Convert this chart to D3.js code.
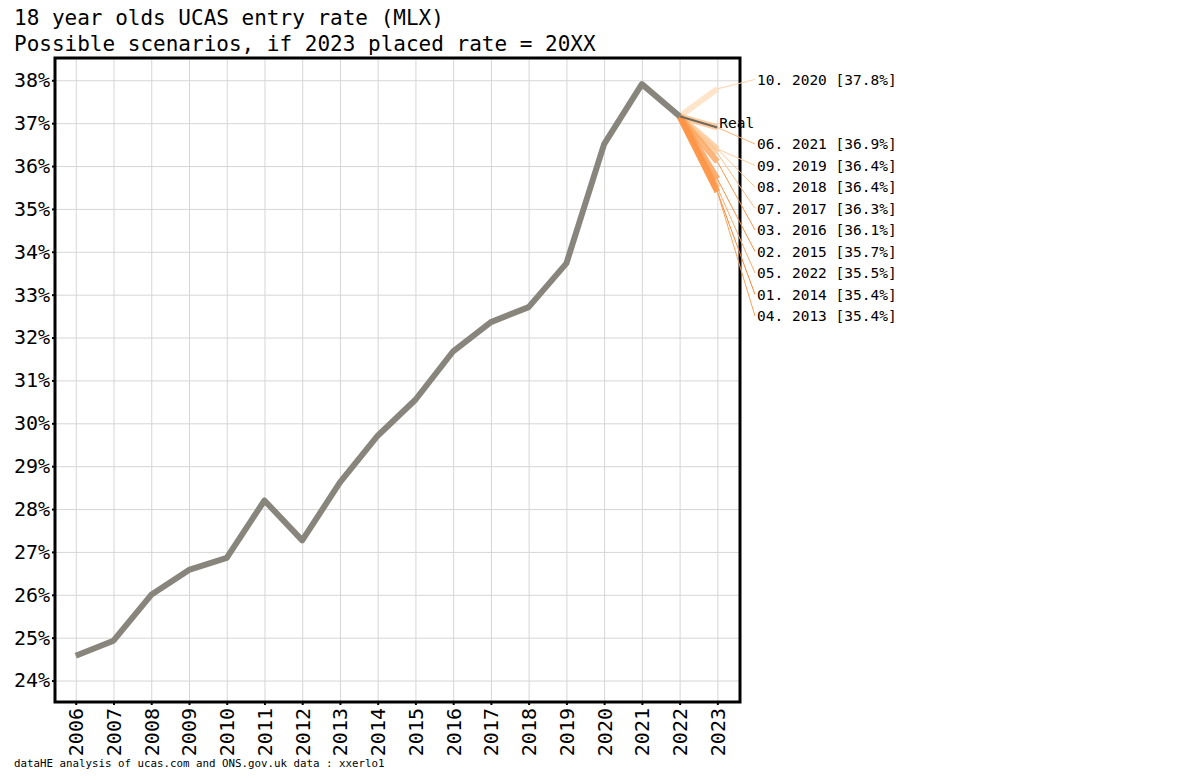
<!DOCTYPE html>
<html>
<head>
<meta charset="utf-8">
<script src="https://cdn.jsdelivr.net/npm/d3@7"></script>
<style>
  body { margin: 0; background: #fff; }
  text { font-family: "DejaVu Sans Mono", monospace; }
  .grid line { stroke: #d6d6d6; stroke-width: 1; }
  .grid path { display: none; }
  .axis path { display: none; }
  .axis line { stroke: #000; stroke-width: 2; }
  .axis text { font-size: 20px; fill: #000; }
</style>
</head>
<body>
<div id="chart"></div>
<script>
// observed entry rate, per cycle
var years = [2006, 2007, 2008, 2009, 2010, 2011, 2012, 2013, 2014, 2015, 2016, 2017, 2018, 2019, 2020, 2021, 2022];
var rate = [24.58, 24.93, 26.0, 26.58, 26.86, 28.2, 27.27, 28.62, 29.71, 30.55, 31.68, 32.36, 32.71, 33.73, 36.51, 37.91, 37.16];
var xYears = d3.range(2006, 2024);
var yTicks = [24, 25, 26, 27, 28, 29, 30, 31, 32, 33, 34, 35, 36, 37, 38];

// 2023 scenarios: placed rate borrowed from year XX
var scenarioRank = ["10", "06", "09", "08", "07", "03", "02", "05", "01", "04"];
var scenarioYear = [2020, 2021, 2019, 2018, 2017, 2016, 2015, 2022, 2014, 2013];
var scenarioValue = [37.8, 36.9, 36.4, 36.4, 36.3, 36.1, 35.7, 35.5, 35.4, 35.4];
var real2023 = 36.9;

var width = 1200, height = 782;
var margin = { top: 58, right: 460, bottom: 80, left: 55 };
var innerWidth = width - margin.left - margin.right,
  innerHeight = height - margin.top - margin.bottom;

var svg = d3.select("#chart").append("svg")
  .attr("width", width).attr("height", height);

svg.append("text").attr("x", 14).attr("y", 25)
  .style("font-size", "21px").text("18 year olds UCAS entry rate (MLX)");
svg.append("text").attr("x", 14).attr("y", 51)
  .style("font-size", "21px").text("Possible scenarios, if 2023 placed rate = 20XX");
svg.append("text").attr("x", 14).attr("y", 767)
  .style("font-size", "10.8px").text("dataHE analysis of ucas.com and ONS.gov.uk data : xxerlo1");

var g = svg.append("g").attr("transform", "translate(" + margin.left + "," + margin.top + ")");

var xScale = d3.scaleLinear().domain([2005.45, 2023.6]).range([0, innerWidth]);
var yScale = d3.scaleLinear().domain([23.5, 38.52]).range([innerHeight, 0]);

// gridlines
var gridX = g.append("g").attr("class", "grid")
  .attr("transform", "translate(0," + innerHeight + ")")
  .call(d3.axisBottom(xScale).tickValues(xYears).tickSize(-innerHeight).tickFormat(""));
var gridY = g.append("g").attr("class", "grid")
  .call(d3.axisLeft(yScale).tickValues(yTicks).tickSize(-innerWidth).tickFormat(""));
gridX.selectAll("text").remove();
gridY.selectAll("text").remove();

// axes
g.append("g").attr("class", "axis")
  .call(d3.axisLeft(yScale).tickValues(yTicks).tickSize(3).tickPadding(2).tickFormat(function (d) { return d + "%"; }));

var gX = g.append("g").attr("class", "axis")
  .attr("transform", "translate(0," + innerHeight + ")")
  .call(d3.axisBottom(xScale).tickValues(xYears).tickSize(3).tickFormat(d3.format("d")));
gX.selectAll("text")
  .attr("transform", "rotate(-90)")
  .attr("x", -6).attr("y", 0).attr("dy", "0.35em")
  .style("text-anchor", "end");

// panel border
g.append("rect").attr("x", 0).attr("y", 0)
  .attr("width", innerWidth).attr("height", innerHeight)
  .attr("fill", "none").attr("stroke", "#000").attr("stroke-width", 3);

var lastYear = years[years.length - 1], lastRate = rate[rate.length - 1];

var colour = d3.scaleLinear().domain([1, 10]).range([0.48, 0.17]);

// scenario lines, lightest drawn first
var scen = scenarioRank.map(function (r, i) {
  return { rank: +r, label: r + ". " + scenarioYear[i] + " [" + scenarioValue[i].toFixed(1) + "%]", value: scenarioValue[i] };
});
var drawOrder = scen.slice().sort(function (a, b) { return b.rank - a.rank; });

g.append("g").selectAll("line")
  .data(drawOrder).enter().append("line")
  .attr("x1", xScale(lastYear)).attr("y1", yScale(lastRate))
  .attr("x2", xScale(2023)).attr("y2", function (d) { return yScale(d.value); })
  .attr("stroke", function (d) { return d3.interpolateOranges(colour(d.rank)); })
  .attr("stroke-width", 6).attr("stroke-opacity", 0.8);

// real 2023 line
g.append("line")
  .attr("x1", xScale(lastYear)).attr("y1", yScale(lastRate))
  .attr("x2", xScale(2023)).attr("y2", yScale(real2023))
  .attr("stroke", "#6e6a60").attr("stroke-width", 2);

// main line
var line = d3.line().x(function (d, i) { return xScale(years[i]); }).y(function (d) { return yScale(d); });
g.append("path").datum(rate)
  .attr("d", line).attr("fill", "none")
  .attr("stroke", "#88867c").attr("stroke-width", 6).attr("stroke-linejoin", "round");

// label layout: top label above, "Real" at its value, rest stacked underneath
var step = 21.5;
var realY = yScale(real2023) - 5;
var labelX = innerWidth + 17;
scen.forEach(function (d, i) {
  d.ly = i === 0 ? realY - 2 * step : realY + i * step;
});

g.append("g").selectAll("line")
  .data(scen).enter().append("line")
  .attr("x1", xScale(2023)).attr("y1", function (d) { return yScale(d.value); })
  .attr("x2", labelX - 2).attr("y2", function (d) { return d.ly; })
  .attr("stroke", function (d) { return d3.interpolateOranges(colour(d.rank) + 0.05); })
  .attr("stroke-width", 1);

g.append("g").selectAll("text")
  .data(scen).enter().append("text")
  .attr("x", labelX).attr("y", function (d) { return d.ly; })
  .attr("dy", "0.35em").style("font-size", "14.5px")
  .text(function (d) { return d.label; });

g.append("text")
  .attr("x", xScale(2023) + 2).attr("y", realY)
  .attr("dy", "0.35em").style("font-size", "14.5px")
  .text("Real");
</script>
</body>
</html>
